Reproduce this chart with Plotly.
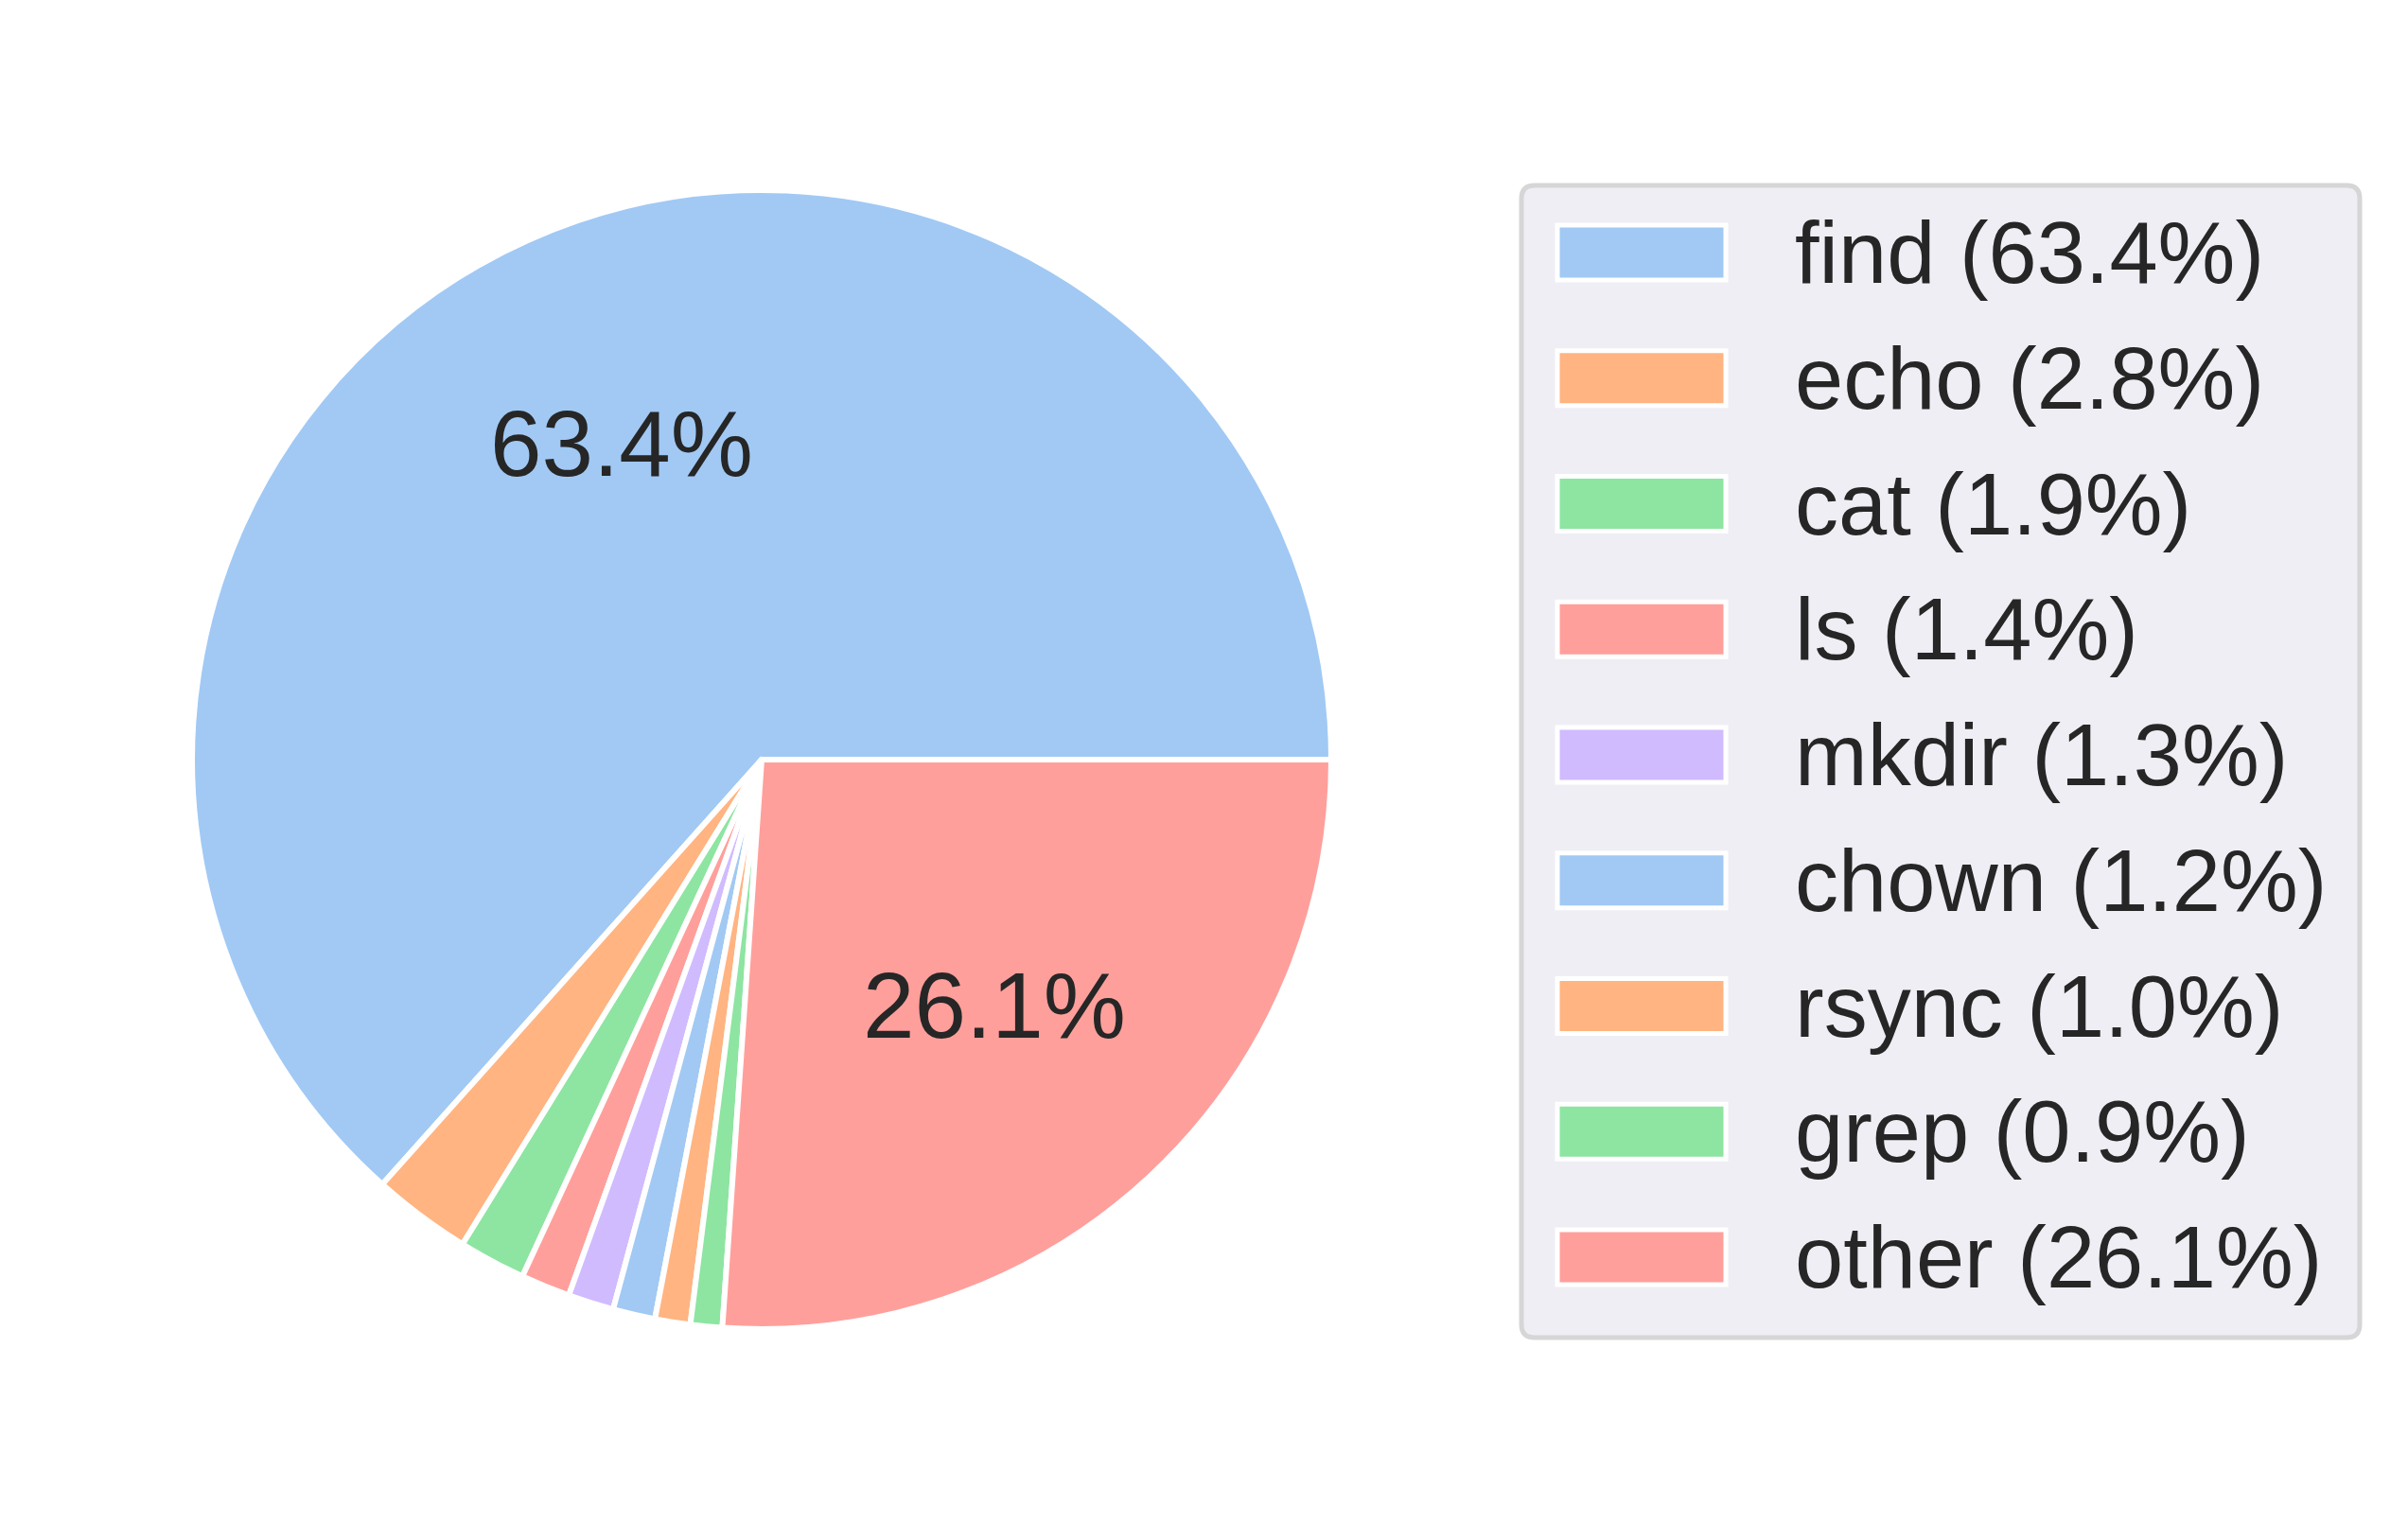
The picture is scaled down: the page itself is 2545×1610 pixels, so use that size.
import math
import plotly.graph_objects as go

# ---- data ----
labels = ["find", "echo", "cat", "ls", "mkdir", "chown", "rsync", "grep", "other"]
values = [63.4, 2.8, 1.9, 1.4, 1.3, 1.2, 1.0, 0.9, 26.1]
colors = ["#a1c9f4", "#ffb482", "#8de5a1", "#ff9f9b", "#d0bbff",
          "#a1c9f4", "#ffb482", "#8de5a1", "#ff9f9b"]
label_threshold = 5.0  # percent labels shown only for larger slices

# ---- layout geometry (pixels) ----
W, H = 2545, 1610
CX, CY, R = 805, 803, 602
TEXT = "#262626"
FONT = "Liberation Sans, Arial, sans-serif"


def px(x):
    return x / W


def py(y):
    return 1 - y / H


total = sum(values)
# matplotlib style: first wedge starts at 3 o'clock, counterclockwise.
# plotly (ccw) ends the first slice at `rotation`, so offset by its angle.
rotation = 90 - values[0] / total * 360

fig = go.Figure()
fig.add_trace(go.Pie(
    labels=labels,
    values=values,
    sort=False,
    direction="counterclockwise",
    rotation=rotation,
    marker=dict(colors=colors, line=dict(color="white", width=6)),
    textinfo="none",
    hoverinfo="label+percent",
    showlegend=False,
    domain=dict(x=[px(CX - R), px(CX + R)], y=[py(CY + R), py(CY - R)]),
))

annotations = []
# percentage labels at 0.6 radius (matplotlib autopct placement)
cum = 0.0
for lab, v in zip(labels, values):
    mid = (cum + v / 2) / total * 2 * math.pi
    cum += v
    pct = v / total * 100
    if pct < label_threshold:
        continue
    x = CX + 0.6 * R * math.cos(mid)
    y = CY - 0.6 * R * math.sin(mid) - 4
    annotations.append(dict(
        x=px(x), y=py(y), xref="paper", yref="paper",
        text=f"{pct:.1f}%", showarrow=False,
        xanchor="center", yanchor="middle",
        font=dict(size=98, color=TEXT, family=FONT),
    ))

# ---- legend (drawn) ----
shapes = []
LX0, LY0, LX1, LY1, RAD = 1608, 196, 2494, 1414, 14
path = (
    f"M {px(LX0 + RAD)},{py(LY0)} L {px(LX1 - RAD)},{py(LY0)} "
    f"Q {px(LX1)},{py(LY0)} {px(LX1)},{py(LY0 + RAD)} "
    f"L {px(LX1)},{py(LY1 - RAD)} Q {px(LX1)},{py(LY1)} {px(LX1 - RAD)},{py(LY1)} "
    f"L {px(LX0 + RAD)},{py(LY1)} Q {px(LX0)},{py(LY1)} {px(LX0)},{py(LY1 - RAD)} "
    f"L {px(LX0)},{py(LY0 + RAD)} Q {px(LX0)},{py(LY0)} {px(LX0 + RAD)},{py(LY0)} Z"
)
shapes.append(dict(type="path", path=path, xref="paper", yref="paper",
                   fillcolor="#eeeef4", line=dict(color="#d6d6d6", width=5),
                   layer="above"))

ROW0, ROWSTEP = 267, 132.75
SW_X0, SW_X1, SW_H = 1646, 1824, 58
TXT_X = 1895
for i, (lab, v, c) in enumerate(zip(labels, values, colors)):
    yc = ROW0 + i * ROWSTEP
    shapes.append(dict(type="rect", xref="paper", yref="paper",
                       x0=px(SW_X0), x1=px(SW_X1),
                       y0=py(yc - SW_H / 2), y1=py(yc + SW_H / 2),
                       fillcolor=c, line=dict(color="white", width=5),
                       layer="above"))
    annotations.append(dict(
        x=px(TXT_X), y=py(yc), xref="paper", yref="paper",
        text=f"{lab} ({v:.1f}%)", showarrow=False,
        xanchor="left", yanchor="middle",
        font=dict(size=92, color=TEXT, family=FONT),
    ))

fig.update_layout(
    width=W, height=H,
    margin=dict(l=0, r=0, t=0, b=0),
    paper_bgcolor="white",
    plot_bgcolor="white",
    showlegend=False,
    shapes=shapes,
    annotations=annotations,
)

fig.write_html(
    "out.html",
    config={"displayModeBar": False},
    post_script="document.body.style.margin='0';document.body.style.overflow='hidden';",
)
